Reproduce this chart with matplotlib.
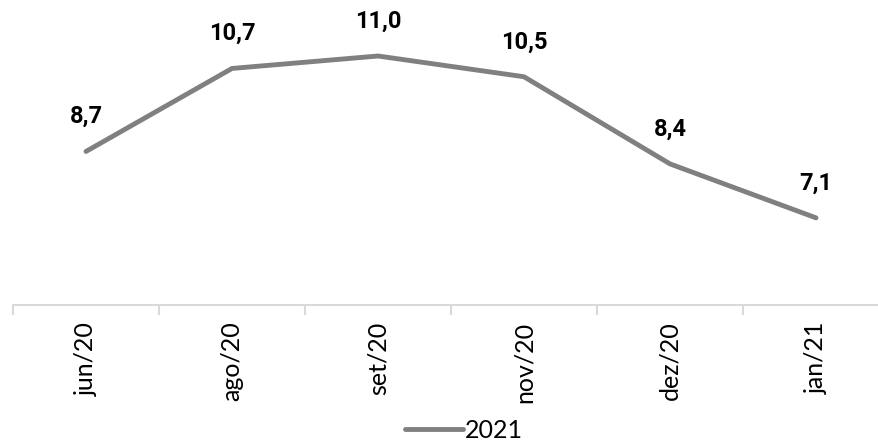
import matplotlib
matplotlib.use("Agg")
import matplotlib.pyplot as plt

categories = ["jun/20", "ago/20", "set/20", "nov/20", "dez/20", "jan/21"]
values = [8.7, 10.7, 11.0, 10.5, 8.4, 7.1]
labels = ["8,7", "10,7", "11,0", "10,5", "8,4", "7,1"]
series_name = "2021"

plt.rcParams['font.family'] = ['Lato', 'DejaVu Sans']

W, H = 879, 442
fig = plt.figure(figsize=(W / 100, H / 100), dpi=100)
left = 13 / W
right = (13 + 6 * 146) / W
bottom = 1 - 305 / H
top = 1 - 14.5 / H
ax = fig.add_axes([left, bottom, right - left, top - bottom])

x = list(range(len(categories)))
line, = ax.plot(x, values, color="#808080", linewidth=3.5, solid_capstyle="round",
                solid_joinstyle="miter", label=series_name, clip_on=False)

for xi, v, lab in zip(x, values, labels):
    ax.annotate(lab, (xi, v), xytext=(0, 25), textcoords="offset points",
                ha="center", va="center", fontsize=17, fontweight="bold",
                family=["Roboto", "DejaVu Sans"],
                color="#000000", annotation_clip=False)

ax.set_xlim(-0.5, len(categories) - 0.5)
ax.set_ylim(5, 12)
ax.set_yticks([])
for s in ["left", "right", "top"]:
    ax.spines[s].set_visible(False)
ax.spines["bottom"].set_color("#d9d9d9")
ax.spines["bottom"].set_linewidth(1.5)

ax.set_xticks([i - 0.5 for i in range(len(categories) + 1)], minor=False)
ax.set_xticklabels([])
ax.tick_params(axis="x", which="major", length=7, color="#d9d9d9", width=1.5)
ax.set_xticks(x, minor=True)
ax.set_xticklabels(categories, minor=True, rotation=90, fontsize=18, color="#000000")
ax.tick_params(axis="x", which="minor", length=0, pad=12)

fig.legend(handles=[line], labels=[series_name], loc="center",
           bbox_to_anchor=(464 / W, 1 - 430 / H), frameon=False, fontsize=18,
           handlelength=2.3, handletextpad=0.1, borderpad=0)

fig.savefig("out.png", dpi=100)
